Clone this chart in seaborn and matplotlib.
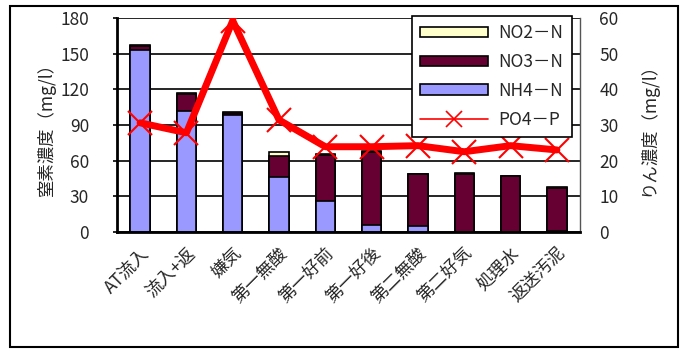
import numpy as np
import pandas as pd
import matplotlib
matplotlib.use("Agg")
import matplotlib.pyplot as plt
import seaborn as sns
from matplotlib.lines import Line2D
from matplotlib.patches import Patch, Rectangle

sites = ["AT流入", "流入+返", "嫌気", "第一無酸", "第一好前", "第一好後",
         "第二無酸", "第二好気", "処理水", "返送汚泥"]
nh4 = [153, 102, 98, 46, 26, 6, 5.5, 0, 0, 1]
no3 = [3, 14, 2, 18, 39, 61, 43, 49, 47, 36]
no2 = [1, 1, 1, 3, 1, 1, 0.5, 0.5, 0.5, 0.5]
po4 = [30.6, 27.8, 59.2, 31.4, 23.9, 23.9, 24.2, 22.5, 24.2, 23.0]

df = pd.DataFrame({"site": sites, "NH4": nh4, "NO3": no3, "NO2": no2, "PO4": po4})
df["NH4_NO3"] = df["NH4"] + df["NO3"]
df["total"] = df["NH4_NO3"] + df["NO2"]

sns.set_style("white")
plt.rcParams["font.family"] = ["Noto Sans CJK JP", "DejaVu Sans"]
fs = 12.5
plt.rcParams["font.size"] = fs

c_nh4 = "#9999ff"
c_no3 = "#660033"
c_no2 = "#ffffcc"

fig = plt.figure(figsize=(6.84, 3.5), dpi=100)
ax = fig.add_axes([0.171, 0.337, 0.677, 0.612])

# stacked bars: draw cumulative totals back to front
sns.barplot(data=df, x="site", y="total", color=c_no2, width=0.42,
            edgecolor="black", linewidth=1.2, ax=ax, saturation=1)
sns.barplot(data=df, x="site", y="NH4_NO3", color=c_no3, width=0.42,
            edgecolor="black", linewidth=1.2, ax=ax, saturation=1)
sns.barplot(data=df, x="site", y="NH4", color=c_nh4, width=0.42,
            edgecolor="black", linewidth=1.2, ax=ax, saturation=1)

ax.set_ylim(0, 180)
ax.set_yticks(np.arange(0, 181, 30))
ax.set_xlim(-0.5, len(sites) - 0.5)
ax.yaxis.grid(True, color="black", linewidth=1.2)
ax.set_axisbelow(True)
ax.set_xlabel("")
ax.set_ylabel("窒素濃度（mg/l）", fontsize=fs, labelpad=3)
ax.set_xticks(range(len(sites)))
ax.set_xticklabels(sites, rotation=45, ha="right", rotation_mode="anchor", fontsize=fs)
ax.set_xticks(np.arange(0.5, len(sites) - 0.5, 1), minor=True)
ax.tick_params(axis="x", which="major", length=0, pad=9)
ax.tick_params(axis="x", which="minor", direction="in", length=4, width=1, color="black")
ax.tick_params(axis="y", direction="out", length=3, width=1.2, color="black",
               pad=17, labelsize=fs)
for s in ["left", "bottom"]:
    ax.spines[s].set_color("black")
    ax.spines[s].set_linewidth(2)
ax.spines["top"].set_visible(False)
ax.spines["right"].set_color("#555555")
ax.spines["right"].set_linewidth(1)

ax2 = ax.twinx()
sns.lineplot(x=np.arange(len(sites)), y=po4, ax=ax2, color="red", linewidth=5,
             marker="x", markersize=17, markeredgewidth=1.5, markeredgecolor="red",
             sort=False)
ax2.set_ylim(0, 60)
ax2.set_yticks(np.arange(0, 61, 10))
ax2.set_ylabel("りん濃度（mg/l）", fontsize=fs, rotation=90, labelpad=14)
ax2.tick_params(axis="y", length=0, pad=14, labelsize=fs)
for s in ax2.spines.values():
    s.set_visible(False)
ax2.grid(False)

handles = [
    Patch(facecolor=c_no2, edgecolor="black", linewidth=1.2, label="NO2－N"),
    Patch(facecolor=c_no3, edgecolor="black", linewidth=1.2, label="NO3－N"),
    Patch(facecolor=c_nh4, edgecolor="black", linewidth=1.2, label="NH4－N"),
    Line2D([0], [0], color="red", linewidth=1.2, marker="x", markersize=12,
           markeredgewidth=1.2, label="PO4－P"),
]
leg = ax2.legend(handles=handles, loc="upper left", bbox_to_anchor=(0.625, 1.035),
                 frameon=True, fancybox=False, edgecolor="black", framealpha=1,
                 handlelength=3.9, handleheight=0.55, labelspacing=0.62,
                 borderpad=0.5, handletextpad=0.6, borderaxespad=0.3, fontsize=fs)
leg.get_frame().set_linewidth(1.2)

# chart outer border
fig.patches.append(Rectangle((0.015, 0.008), 0.976, 0.975, transform=fig.transFigure,
                             fill=False, edgecolor="black", linewidth=1.5))

fig.savefig("out.png", dpi=100)
